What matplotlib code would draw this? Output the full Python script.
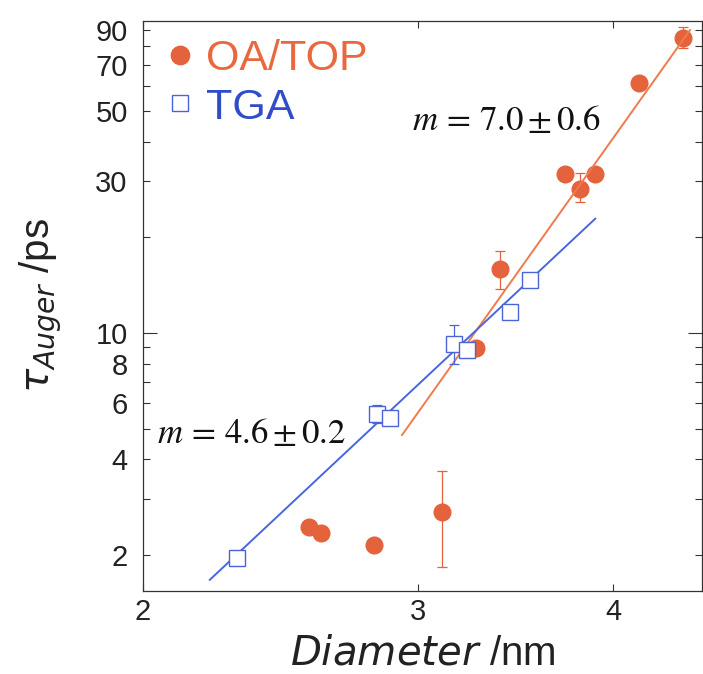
import numpy as np
import matplotlib.pyplot as plt
from matplotlib.ticker import NullLocator, NullFormatter

plt.rcParams['font.family'] = ['Liberation Sans', 'DejaVu Sans']

# OA/TOP samples (diameter nm, tau ps, lower/upper error)
oa_d = [2.556, 2.602, 2.812, 3.108, 3.267, 3.383, 3.728, 3.811, 3.896, 4.156, 4.434]
oa_tau = [2.45, 2.35, 2.15, 2.73, 8.97, 15.9, 31.7, 28.4, 31.7, 61.3, 84.9]
oa_lo = [0, 0, 0, 0.90, 0, 2.1, 0, 2.5, 0, 0, 6.0]
oa_hi = [0, 0, 0, 0.95, 0, 2.2, 0, 3.5, 0, 0, 7.0]

# TGA samples
tga_d = [2.299, 2.825, 2.879, 3.163, 3.224, 3.434, 3.537]
tga_tau = [1.96, 5.56, 5.40, 9.23, 8.84, 11.65, 14.7]
tga_lo = [0, 0.37, 0, 1.24, 0, 0, 0]
tga_hi = [0, 0.37, 0, 1.37, 0, 0, 0]

# power law fits (end points)
oa_fit_d = [2.93, 4.48]
oa_fit_tau = [4.77, 89.9]
tga_fit_d = [2.207, 3.896]
tga_fit_tau = [1.67, 22.9]

x_ticks = [2, 3, 4]
y_major = [10]
y_minor = [2, 3, 4, 5, 6, 7, 8, 9, 20, 30, 40, 50, 60, 70, 80, 90]
y_labeled = [2, 4, 6, 8, 30, 50, 70, 90]

orange = '#E4623C'
orange_line = '#F07A4C'
orange_text = '#E8693F'
blue = '#4A64D8'
blue_line = '#4866E0'
blue_text = '#2F4DC8'

fig = plt.figure(figsize=(7.03, 6.74), dpi=100)
ax = fig.add_axes([143 / 703, 83 / 674, 559 / 703, 570 / 674])
ax.set_xscale('log')
ax.set_yscale('log')


def err_points(d, tau, lo, hi):
    idx = [i for i in range(len(d)) if lo[i] > 0 or hi[i] > 0]
    return ([d[i] for i in idx], [tau[i] for i in idx],
            [[lo[i] for i in idx], [hi[i] for i in idx]])


ex, ey, eerr = err_points(oa_d, oa_tau, oa_lo, oa_hi)
ax.errorbar(ex, ey, yerr=eerr, fmt='none', ecolor=orange, elinewidth=0.9,
            capsize=3.5, capthick=0.9, zorder=2)
ax.plot(oa_d, oa_tau, 'o', color=orange, ms=12, mec=orange, zorder=3,
        label='OA/TOP')
ax.plot(oa_fit_d, oa_fit_tau, '-', color=orange_line, lw=1.4, zorder=4)
ax.plot(tga_fit_d, tga_fit_tau, '-', color=blue_line, lw=1.4, zorder=4)

ex, ey, eerr = err_points(tga_d, tga_tau, tga_lo, tga_hi)
ax.errorbar(ex, ey, yerr=eerr, fmt='none', ecolor=blue, elinewidth=0.9,
            capsize=3.5, capthick=0.9, zorder=5)
ax.plot(tga_d, tga_tau, 's', color=blue, ms=11, mfc='white', mec=blue,
        mew=1.0, zorder=6, label='TGA')

ax.set_xlim(2.0, 4.56)
ax.set_ylim(1.54, 96)

ax.xaxis.set_major_locator(plt.FixedLocator(x_ticks))
ax.xaxis.set_major_formatter(plt.FixedFormatter([str(v) for v in x_ticks]))
ax.xaxis.set_minor_locator(NullLocator())
ax.xaxis.set_minor_formatter(NullFormatter())

ax.yaxis.set_major_locator(plt.FixedLocator(y_major))
ax.yaxis.set_major_formatter(plt.FixedFormatter([str(v) for v in y_major]))
ax.yaxis.set_minor_locator(plt.FixedLocator(y_minor))
ax.yaxis.set_minor_formatter(plt.FixedFormatter(
    [str(v) if v in y_labeled else '' for v in y_minor]))

ax.tick_params(axis='both', which='both', direction='in', top=True,
               right=True, colors='#333333', labelcolor='#222222',
               labelsize=21, width=0.8)
ax.tick_params(axis='x', which='major', length=5, pad=5)
ax.tick_params(axis='y', which='major', length=10, pad=11)
ax.tick_params(axis='y', which='minor', length=5, pad=11)
for sp in ax.spines.values():
    sp.set_color('#333333')
    sp.set_linewidth(0.9)

plt.rcParams['mathtext.fontset'] = 'custom'
plt.rcParams['mathtext.it'] = 'Liberation Sans:italic'
plt.rcParams['mathtext.rm'] = 'Liberation Sans'
ax.set_xlabel(r'$\mathit{Diameter}$ /nm', fontsize=29, labelpad=6,
              color='#222222')
ax.set_ylabel(r'$\tau_{\mathit{Auger}}$ /ps', fontsize=29, labelpad=22,
              color='#222222')

ax.text(0.481, 0.809, r'$m\,=\,7.0\pm0.6$', transform=ax.transAxes,
        fontsize=25, math_fontfamily='stix', color='#111111')
ax.text(0.025, 0.26, r'$m\,=\,4.6\pm0.2$', transform=ax.transAxes,
        fontsize=25, math_fontfamily='stix', color='#111111')

leg = ax.legend(loc='upper left', bbox_to_anchor=(0.016, 0.995),
                frameon=False, fontsize=31,
                handlelength=0.6, handletextpad=0.3, labelspacing=0.2,
                borderaxespad=0.1, borderpad=0.25, markerscale=1.1,
                labelcolor=[orange_text, blue_text])

fig.savefig('out.png', dpi=100)
